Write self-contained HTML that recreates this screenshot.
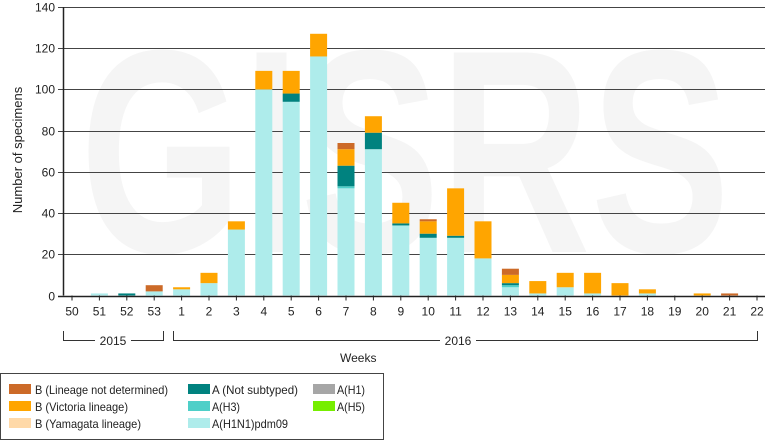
<!DOCTYPE html>
<html><head><meta charset="utf-8"><style>
body{margin:0;background:#fff;}
svg{display:block;font-family:"Liberation Sans",sans-serif;}
</style></head><body>
<svg id="chart" width="767" height="441">
<g>
<text x="405" y="252" text-anchor="middle" font-size="290" font-weight="bold" fill="#f5f5f5" textLength="650" lengthAdjust="spacingAndGlyphs">GISRS</text>
</g>
<g id="grid"></g>
<g id="bars"></g>
<g id="axes"></g>
<text x="22" y="150" transform="rotate(-90 22 150)" text-anchor="middle" font-size="13" fill="#222">Number of specimens</text>
<g stroke="#333" fill="none" stroke-width="1">
<path d="M63.5 331 V340.5 H95 M131 340.5 H163.5 V331"/>
<path d="M173.5 331 V340.5 H440 M476 340.5 H757.5 V331"/>
</g>
<text x="113" y="345" text-anchor="middle" font-size="12" fill="#222">2015</text>
<text x="458" y="345" text-anchor="middle" font-size="12" fill="#222">2016</text>
<text x="340" y="362" font-size="12" fill="#222">Weeks</text>
<g>
<rect x="0.5" y="373.5" width="383" height="66" fill="#fff" stroke="#444"/>
<g font-size="12" fill="#222">
<rect x="9" y="384" width="22" height="10" fill="#cc6a28"/><text x="35" y="394" textLength="133" lengthAdjust="spacingAndGlyphs">B (Lineage not determined)</text>
<rect x="9" y="401" width="22" height="10" fill="#ffa500"/><text x="35" y="411" textLength="93" lengthAdjust="spacingAndGlyphs">B (Victoria lineage)</text>
<rect x="9" y="418" width="22" height="10" fill="#ffd9a8"/><text x="35" y="428" textLength="106" lengthAdjust="spacingAndGlyphs">B (Yamagata lineage)</text>
<rect x="188" y="384" width="22" height="10" fill="#00827f"/><text x="212" y="394" textLength="86" lengthAdjust="spacingAndGlyphs">A (Not subtyped)</text>
<rect x="188" y="401" width="22" height="10" fill="#4ecfc8"/><text x="212" y="411" textLength="28" lengthAdjust="spacingAndGlyphs">A(H3)</text>
<rect x="188" y="418" width="22" height="10" fill="#aeeceb"/><text x="212" y="428" textLength="76" lengthAdjust="spacingAndGlyphs">A(H1N1)pdm09</text>
<rect x="313" y="384" width="22" height="10" fill="#a6a6a6"/><text x="337" y="394" textLength="28" lengthAdjust="spacingAndGlyphs">A(H1)</text>
<rect x="313" y="401" width="22" height="10" fill="#76ee00"/><text x="337" y="411" textLength="28" lengthAdjust="spacingAndGlyphs">A(H5)</text>
</g>
</g>
</svg>
<script>
const weeks = ["50","51","52","53","1","2","3","4","5","6","7","8","9","10","11","12","13","14","15","16","17","18","19","20","21","22"];
const h1n1 = [0,1,0,2,3,6,32,100,94,116,52,71,34,28,28,18,4,1,4,1,0,1,0,0,0,0];
const h3 =   [0,0,0,0,0,0,0,0,0,0,1,0,0,0,0,0,1,0,0,0,0,0,0,0,0,0];
const notSub=[0,0,1,0,0,0,0,0,4,0,10,8,1,2,1,0,1,0,0,0,0,0,0,0,0,0];
const yamagata=[0,0,0,0,0,0,0,0,0,0,0,0,0,0,0,0,0,0,0,0,0,0,0,0,0,0];
const victoria=[0,0,0,0,1,5,4,9,11,11,8,8,10,6,23,18,4,6,7,10,6,2,0,1,0,0];
const lnd =  [0,0,0,3,0,0,0,0,0,0,3,0,0,1,0,0,3,0,0,0,0,0,0,0,1,0];
const yTicks = [0,20,40,60,80,100,120,140];

const NS="http://www.w3.org/2000/svg";
const x0=63,xFirst=72,xLast=757,yBase=295.5,yTop=7,yMax=140;
const step=(xLast-xFirst)/(weeks.length-1);
const xs=i=>xFirst+i*step;
const ys=v=>yBase-(v/yMax)*(yBase-yTop);
function mk(tag,attrs,parent){const e=document.createElementNS(NS,tag);for(const k in attrs)e.setAttribute(k,attrs[k]);parent.appendChild(e);return e;}
const grid=document.getElementById('grid'),bars=document.getElementById('bars'),axes=document.getElementById('axes');
yTicks.forEach(t=>{
  const y=Math.round(ys(t))+0.5;
  const l=mk('line',{x1:x0-5,x2:765,y1:y,y2:y,stroke:t===0?'#222':'#444','stroke-width':t===0?1.5:1},grid);
  
  
  const tx=mk('text',{x:x0-8,y:y+4,'text-anchor':'end','font-size':12,fill:'#222'},axes);
  tx.textContent=t;
  
  
});
const yax=mk('line',{x1:x0+0.5,x2:x0+0.5,y1:yTop,y2:yBase,stroke:'#222','stroke-width':1.5},axes);


const series=[[h1n1,'#aeeceb','h1n1'],[h3,'#4ecfc8','h3'],[notSub,'#00827f','not-subtyped'],[yamagata,'#ffd9a8','yamagata'],[victoria,'#ffa500','victoria'],[lnd,'#cc6a28','lnd']];
const bw=17;
weeks.forEach((w,i)=>{
  let cum=0;
  series.forEach(([arr,col,nm])=>{
    const v=arr[i]; if(!v){return;}
    const yTopV=ys(cum+v),yBot=ys(cum);
    const r=mk('rect',{x:xs(i)-bw/2,y:yTopV,width:bw,height:yBot-yTopV,fill:col},bars);
    
    
    cum+=v;
  });
  const tk=mk('line',{x1:xs(i),x2:xs(i),y1:yBase,y2:yBase+5,stroke:'#222'},axes);
  
  
  const lb=mk('text',{x:xs(i),y:yBase+20,'text-anchor':'middle','font-size':12,fill:'#222'},axes);
  lb.textContent=w;
  
  
});
</script>
</body></html>
